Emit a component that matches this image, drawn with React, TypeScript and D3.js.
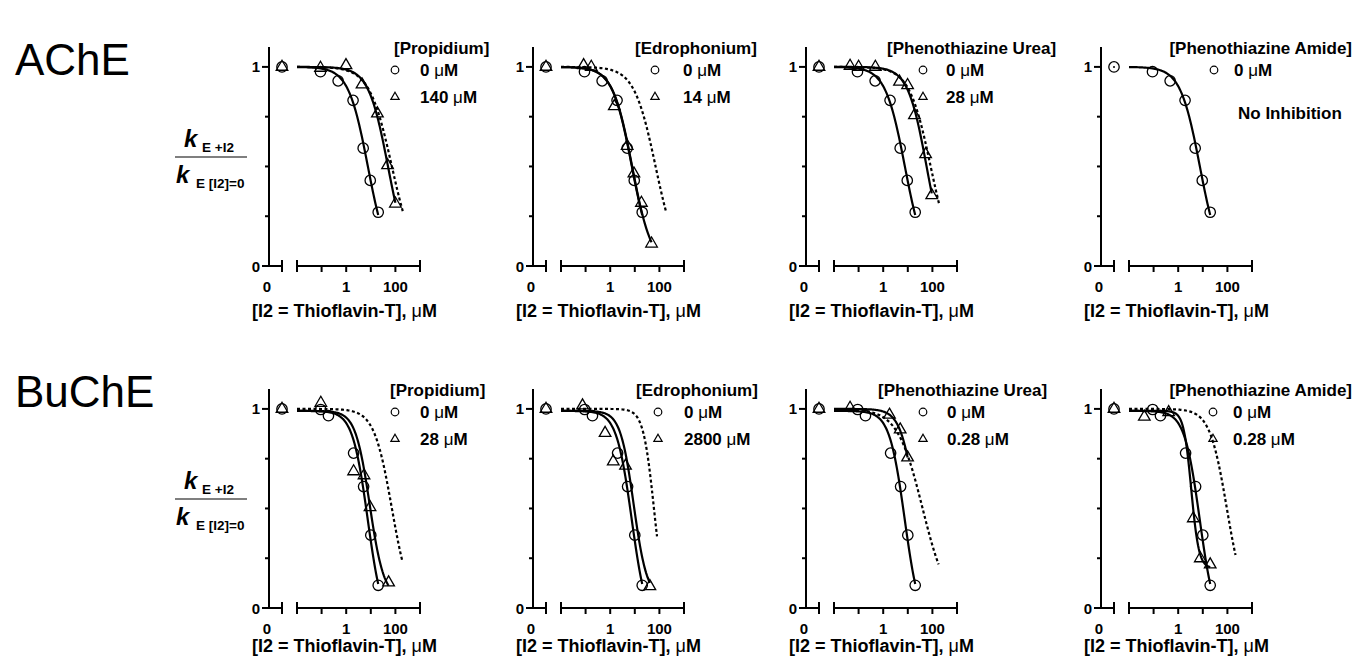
import * as d3 from "d3";

// panel texts
const rowNames = ["AChE", "BuChE"];
const inhibitors = ["[Propidium]", "[Edrophonium]", "[Phenothiazine Urea]", "[Phenothiazine Amide]"];
const acheConc = ["140", "14", "28", ""];
const bcheConc = ["28", "2800", "0.28", "0.28"];
const xTickLabels = [1, 100];
const yTickLabels = [0, 1];

// 0 uM controls (same in every panel of a row)
const acheCtrlX = [0.09, 0.47, 1.9, 4.9, 9.5, 20];
const acheCtrlY = [0.976, 0.93, 0.832, 0.592, 0.43, 0.27];
const bcheCtrlX = [0.092, 0.19, 2.0, 5.1, 10, 20];
const bcheCtrlY = [0.997, 0.966, 0.778, 0.61, 0.366, 0.114];

// inhibitor present (triangles)
const acheTriX = [
  [0.09, 0.98, 4.4, 18.6, 48, 100],
  [0.083, 0.17, 1.47, 4.9, 9.2, 18.6, 48],
  [0.045, 0.1, 0.48, 4.6, 9.8, 18.6, 53, 94],
  [],
];
const acheTriY = [
  [0.995, 1.008, 0.911, 0.766, 0.506, 0.313],
  [1.008, 1.0, 0.802, 0.603, 0.464, 0.317, 0.112],
  [1.005, 1.0, 1.0, 0.925, 0.908, 0.757, 0.561, 0.355],
  [],
];
const bcheTriX = [
  [0.093, 2.0, 5.3, 9.3, 53],
  [0.075, 0.62, 1.33, 4.2, 41],
  [0.045, 1.8, 4.9, 9.8],
  [0.042, 0.41, 4.1, 7.9, 20],
];
const bcheTriY = [
  [1.03, 0.686, 0.666, 0.506, 0.128],
  [1.017, 0.879, 0.736, 0.714, 0.109],
  [1.005, 0.97, 0.896, 0.756],
  [0.96, 0.983, 0.45, 0.249, 0.218],
];

// fitted curves: [ic50, hill, top, bottom, xEnd]
const acheCtrlFit = [7.6, 1.1, 1, 0, 20];
const bcheCtrlFit = [7.5, 1.4, 0.99, -0.1, 20];
const acheTriFit = [[50, 1.1, 1, 0, 100], [7.8, 1.1, 1, 0, 48], [58, 1.15, 1, 0, 94], null];
const bcheTriFit = [[9, 1.5, 0.99, 0.05, 53], [9, 1.6, 0.99, 0.05, 41], [22, 1.4, 1, 0, 9.8], [3.4, 2.8, 0.99, 0.2, 20]];
const acheDashFit = [[72, 0.95, 1, 0, 200], [70, 1.0, 1, 0, 190], [85, 1.0, 1, 0, 190], null];
const bcheDashFit = [[72, 1.2, 1, 0, 190], [60, 2.0, 1, 0, 80], [40, 0.85, 1, 0, 178], [95, 1.25, 1, 0, 214]];

const AXIS_X = [269, 533, 806, 1101];
const ROW_Y0 = [266, 608];
const TITLE_DY = [51, 44];
const LEGEND = [
  [[394, "start", 395, 420], [635, "start", 655, 683], [887, "start", 923, 946], [1352, "end", 1214, 1234]],
  [[390, "start", 395, 420], [636, "start", 658, 684], [878, "start", 923, 947], [1352, "end", 1213, 1233]],
];
const FONT = "'Liberation Sans', Arial, sans-serif";

const triPath = d3.symbol(d3.symbolTriangle, 58)();
const triSmall = d3.symbol(d3.symbolTriangle, 30)();

function curvePath(fit, x, y) {
  const [ic50, hill, top, bottom, xEnd] = fit;
  const f = (v) => bottom + (top - bottom) / (1 + Math.pow(v / ic50, hill));
  const n = 120;
  const lo = Math.log10(0.01), hi = Math.log10(xEnd);
  const xs = d3.range(n + 1).map((i) => Math.pow(10, lo + ((hi - lo) * i) / n));
  return d3.line().x((d) => x(d)).y((d) => y(f(d)))(xs);
}

function Panel({ row, col }) {
  const ax = AXIS_X[col];
  const y0 = ROW_Y0[row];
  const y = d3.scaleLinear().domain([0, 1.1]).range([y0, y0 - 219]);
  const x = d3.scaleLog().domain([0.01, 1000]).range([ax + 28, ax + 151]);
  const zx = ax + 13;

  const ctrlX = row === 0 ? acheCtrlX : bcheCtrlX;
  const ctrlY = row === 0 ? acheCtrlY : bcheCtrlY;
  const ctrlFit = row === 0 ? acheCtrlFit : bcheCtrlFit;
  const triX = (row === 0 ? acheTriX : bcheTriX)[col];
  const triY = (row === 0 ? acheTriY : bcheTriY)[col];
  const triFit = (row === 0 ? acheTriFit : bcheTriFit)[col];
  const dashFit = (row === 0 ? acheDashFit : bcheDashFit)[col];
  const conc = (row === 0 ? acheConc : bcheConc)[col];
  const [tX, tAnchor, sX, txtX] = LEGEND[row][col];
  const legY = y0 - 239;
  const hasTri = triX.length > 0;

  return (
    <g>
      {/* y axis */}
      <line x1={ax} x2={ax} y1={y(0)} y2={y(1.1)} stroke="#000" strokeWidth={2} />
      {[0, 0.25, 0.5, 0.75, 1].map((t) => (
        <line key={t} x1={ax - (t === 0 || t === 1 ? 7 : 4)} x2={ax} y1={y(t)} y2={y(t)} stroke="#000" strokeWidth={2} />
      ))}
      {yTickLabels.map((t) => (
        <text key={t} x={ax - 9} y={y(t) + 5.5} textAnchor="end" fontSize={15} fontWeight="bold">{t}</text>
      ))}
      {/* x axis: zero segment */}
      <line x1={ax} x2={zx} y1={y0} y2={y0} stroke="#000" strokeWidth={2} />
      <line x1={zx} x2={zx} y1={y0 - 6} y2={y0 + 6} stroke="#000" strokeWidth={2} />
      <text x={ax - 2} y={y0 + 25.5} textAnchor="middle" fontSize={15} fontWeight="bold">0</text>
      {/* x axis: log segment */}
      <line x1={x(0.01)} x2={x(1000)} y1={y0} y2={y0} stroke="#000" strokeWidth={2} />
      {[0.01, 0.1, 1, 10, 100, 1000].map((t) => {
        const end = t === 0.01 || t === 1000;
        return <line key={t} x1={x(t)} x2={x(t)} y1={end ? y0 - 6 : y0} y2={y0 + 6} stroke="#000" strokeWidth={2} />;
      })}
      {xTickLabels.map((t) => (
        <text key={t} x={x(t)} y={y0 + 25.5} textAnchor="middle" fontSize={15} fontWeight="bold">{t}</text>
      ))}
      <text x={ax + 75.5} y={y0 + TITLE_DY[row]} textAnchor="middle" fontSize={18} fontWeight="bold">
        [I2 = Thioflavin-T], <tspan fontWeight="normal">μ</tspan>M
      </text>

      {/* curves */}
      {dashFit && (
        <path d={curvePath(dashFit, x, y)} fill="none" stroke="#000" strokeWidth={2.2} strokeDasharray="3,2.5" />
      )}
      <path d={curvePath(ctrlFit, x, y)} fill="none" stroke="#000" strokeWidth={2.2} />
      {triFit && <path d={curvePath(triFit, x, y)} fill="none" stroke="#000" strokeWidth={2.2} />}

      {/* zero-concentration points */}
      <circle cx={zx} cy={y(1)} r={5.2} fill="none" stroke="#000" strokeWidth={1.3} />
      {hasTri ? (
        <path d={triPath} transform={`translate(${zx},${y(1)})`} fill="none" stroke="#000" strokeWidth={1.3} />
      ) : (
        <circle cx={zx} cy={y(1)} r={1} fill="#000" />
      )}

      {/* data */}
      {ctrlX.map((v, i) => (
        <circle key={"c" + i} cx={x(v)} cy={y(ctrlY[i])} r={5.2} fill="none" stroke="#000" strokeWidth={1.3} />
      ))}
      {triX.map((v, i) => (
        <path key={"t" + i} d={triPath} transform={`translate(${x(v)},${y(triY[i])})`} fill="none" stroke="#000" strokeWidth={1.3} />
      ))}

      {/* legend */}
      <text x={tX} y={legY + 27} textAnchor={tAnchor} fontSize={17} fontWeight="bold">{inhibitors[col]}</text>
      <circle cx={sX} cy={legY + 43} r={3.8} fill="none" stroke="#000" strokeWidth={1.2} />
      <text x={txtX} y={legY + 48.5} fontSize={17} fontWeight="bold">
        0 <tspan fontWeight="normal">μ</tspan>M
      </text>
      {hasTri ? (
        <g>
          <path d={triSmall} transform={`translate(${sX},${legY + 70})`} fill="none" stroke="#000" strokeWidth={1.2} />
          <text x={txtX} y={legY + 76} fontSize={17} fontWeight="bold">
            {conc} <tspan fontWeight="normal">μ</tspan>M
          </text>
        </g>
      ) : (
        <text x={1238} y={legY + 92} fontSize={17} fontWeight="bold">No Inhibition</text>
      )}
    </g>
  );
}

function YLabel({ lineY }) {
  return (
    <g fontWeight="bold">
      <text x={184} y={lineY - 10} fontSize={24} fontStyle="italic">k</text>
      <text x={202} y={lineY - 5} fontSize={13.5}>E +I2</text>
      <line x1={175} x2={247} y1={lineY} y2={lineY} stroke="#000" strokeWidth={1.2} />
      <text x={176} y={lineY + 26} fontSize={24} fontStyle="italic">k</text>
      <text x={196} y={lineY + 31} fontSize={13.5}>E [I2]=0</text>
    </g>
  );
}

export default function App() {
  return (
    <svg width={1354} height={662} style={{ display: "block", position: "absolute", left: 0, top: 0 }} fontFamily={FONT}>
      <rect width={1354} height={662} fill="#fff" />
      <text x={15} y={75} fontSize={44}>{rowNames[0]}</text>
      <text x={15} y={407} fontSize={44}>{rowNames[1]}</text>
      <YLabel lineY={157} />
      <YLabel lineY={499} />
      {[0, 1].map((r) => [0, 1, 2, 3].map((c) => <Panel key={r + "-" + c} row={r} col={c} />))}
    </svg>
  );
}
